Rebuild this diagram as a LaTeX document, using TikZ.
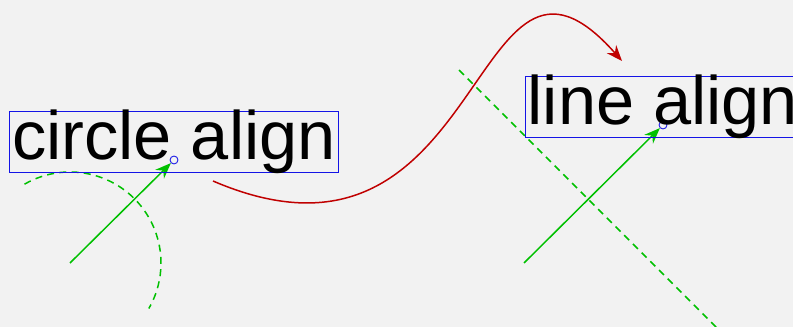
\documentclass[tikz,border=0pt]{standalone}
\usepackage{fontspec}
\setmainfont{Liberation Sans}
\usetikzlibrary{arrows.meta,calc,positioning}
\definecolor{PageGrey}{RGB}{242,242,242}
\definecolor{GuideGreen}{RGB}{0,192,0}
\definecolor{CurveRed}{RGB}{192,0,0}
\definecolor{AnchorBlue}{RGB}{20,20,230}

\begin{document}
\begin{tikzpicture}[x=.02cm,y=-.02cm,>={Stealth[length=9pt,width=7pt]},
  txtbox/.style={draw=AnchorBlue,line width=.5pt,inner xsep=1.5pt,inner ysep=0pt,text height=27.5pt,text depth=7pt,anchor=base,font=\fontsize{39}{41}\selectfont},
  dot/.style={circle,draw=AnchorBlue,line width=.5pt,inner sep=0pt,minimum size=4.5pt},
  guide/.style={GuideGreen,line width=.85pt},dashguide/.style={guide,dash pattern=on 4pt off 3pt}]
\fill[PageGrey] (0,0) rectangle (793,327);\useasboundingbox (0,0) rectangle (793,327);
\coordinate (ctail) at (70,263);\node[dot] (cdot) at (174,160) {};
\draw[dashguide] (ctail) ++(-120:91) arc (-120:30:91);\draw[guide,->] (ctail) -- (cdot);
\node[txtbox] (ctext) at (cdot.center) {circle align};
\coordinate (ltail) at (524,263);\node[dot] (ldot) at (663,125) {};
\coordinate (lfoot) at ($(ltail)+(64,-64)$);
\draw[dashguide] ($(lfoot)+(-129,-129)$) -- ($(lfoot)+(140,140)$);\draw[guide,->] (ltail) -- (ldot);
\node[txtbox] (ltext) at (ldot.center) {line align};
\coordinate (cstart) at (213,181);\coordinate (cend) at (622,61);
\draw[CurveRed,line width=.85pt,->] (cstart) .. controls (490,300) and (470,-111) .. (cend);
\end{tikzpicture}
\end{document}
